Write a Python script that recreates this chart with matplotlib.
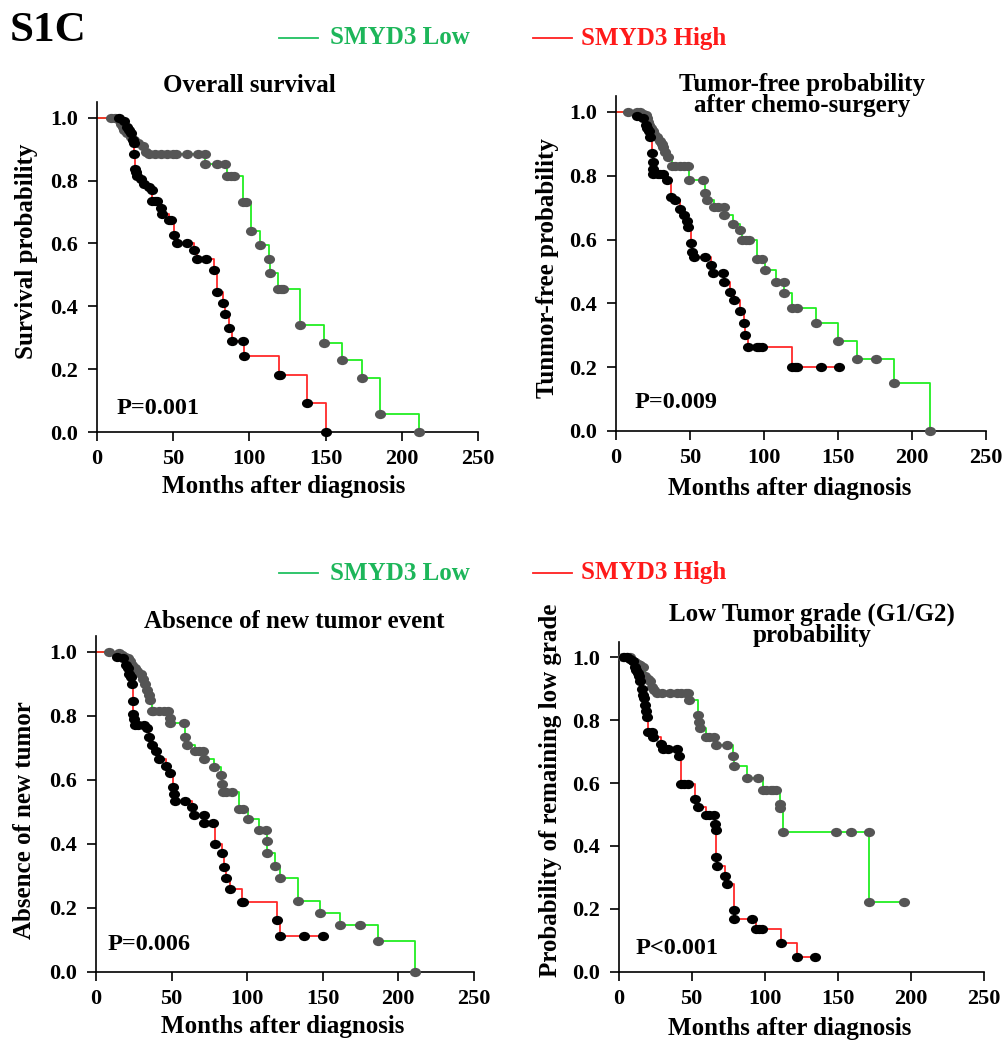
import matplotlib
matplotlib.use("Agg")
import matplotlib.pyplot as plt
from matplotlib.lines import Line2D
from matplotlib.path import Path

plt.rcParams['font.family'] = ['Liberation Serif', 'DejaVu Serif']
plt.rcParams['font.weight'] = 'bold'

W, H = 1005, 1041

# ---- data (months, probability) ----
# overall survival
os_low_t = [9, 12, 15, 16, 17, 18, 20, 22, 24, 27, 30, 32, 34, 38, 42, 46, 50, 52, 59, 66, 71, 71, 79, 84,
            85, 88, 90, 96, 98, 101, 107, 113, 113.5, 119, 121, 122, 133.5, 149, 161, 174, 186, 211]
os_low_s = [1.0, 1.0, 0.99, 0.98, 0.97, 0.96, 0.95, 0.94, 0.93, 0.92, 0.91, 0.89, 0.886, 0.886, 0.886, 0.886,
            0.886, 0.886, 0.886, 0.886, 0.886, 0.852, 0.852, 0.852, 0.814, 0.814, 0.814, 0.732, 0.732, 0.64,
            0.595, 0.549, 0.505, 0.454, 0.454, 0.454, 0.34, 0.283, 0.228, 0.171, 0.058, 0.0]
os_high_t = [14.6, 17.8, 20, 21, 22.2, 23.3, 24.3, 24.3, 24.8, 25.5, 26.5, 28.7, 30.9, 34, 36.3, 36.3, 38,
             39.6, 41.7, 42.8, 47.2, 48.3, 50.4, 52.2, 59.1, 63.5, 65.7, 71.7, 77, 78.7, 82.4, 84.1, 86.3,
             88.5, 95.7, 96.7, 119.6, 120.4, 137.8, 150]
os_high_s = [1.0, 0.99, 0.97, 0.96, 0.95, 0.93, 0.92, 0.886, 0.838, 0.826, 0.815, 0.804, 0.79, 0.78, 0.771,
             0.735, 0.735, 0.735, 0.714, 0.695, 0.676, 0.676, 0.626, 0.602, 0.602, 0.579, 0.549, 0.549,
             0.515, 0.447, 0.412, 0.376, 0.33, 0.291, 0.291, 0.242, 0.182, 0.182, 0.092, 0.0]

# tumor-free after chemo-surgery
tf_low_t = [8.4, 14, 16, 18, 20, 21, 21.5, 22.5, 24, 25, 26, 28, 30, 31, 32, 33, 35, 37.8, 40, 43, 46, 49,
            49.5, 58.8, 60, 61.5, 66, 69, 73, 73, 79, 84, 85, 88, 90, 95.5, 99, 101, 108, 113.6, 113.6, 119,
            122.6, 135, 150, 163, 176, 188, 212.7]
tf_low_s = [1.0, 1.0, 1.0, 0.995, 0.99, 0.98, 0.97, 0.96, 0.95, 0.94, 0.93, 0.92, 0.91, 0.9, 0.89, 0.875,
            0.86, 0.83, 0.83, 0.83, 0.83, 0.83, 0.788, 0.788, 0.746, 0.723, 0.703, 0.703, 0.703, 0.676, 0.65,
            0.63, 0.598, 0.598, 0.598, 0.54, 0.54, 0.504, 0.468, 0.468, 0.431, 0.387, 0.387, 0.339, 0.283,
            0.225, 0.225, 0.149, 0.0]
tf_high_t = [14, 18.5, 20, 21, 22, 23, 24.2, 25, 25.3, 25.3, 28.7, 30, 32, 34.4, 37, 40, 43, 46, 48, 48.6,
             51, 51.4, 52.5, 60.4, 64, 65.6, 72.4, 72.9, 77, 79.6, 84, 86.4, 87.6, 89, 95.5, 97, 99, 119,
             121, 122.6, 139, 151]
tf_high_s = [0.986, 0.98, 0.96, 0.95, 0.94, 0.92, 0.87, 0.843, 0.82, 0.805, 0.805, 0.805, 0.805, 0.786,
             0.734, 0.723, 0.697, 0.676, 0.659, 0.638, 0.588, 0.562, 0.546, 0.546, 0.52, 0.494, 0.494, 0.468,
             0.436, 0.41, 0.377, 0.339, 0.3, 0.264, 0.264, 0.264, 0.264, 0.2, 0.2, 0.2, 0.2, 0.2]

# absence of new tumor event
nt_low_t = [8.4, 15, 17, 19, 21, 22.7, 24, 25.5, 27, 30, 31, 32.6, 33.8, 35, 35.8, 37, 38, 42, 45, 48, 49,
            49, 58, 59, 60, 65.6, 68, 71, 71.7, 78, 83, 83.6, 84, 86, 90, 94.9, 97.5, 100.4, 107.7, 112.8,
            113, 113, 118.8, 122, 133.6, 148.6, 161.4, 174.6, 186.5, 211.5]
nt_low_s = [1.0, 0.995, 0.99, 0.985, 0.98, 0.97, 0.96, 0.95, 0.94, 0.93, 0.915, 0.9, 0.88, 0.865, 0.85,
            0.815, 0.815, 0.815, 0.815, 0.815, 0.794, 0.776, 0.776, 0.733, 0.71, 0.69, 0.69, 0.69, 0.666,
            0.64, 0.614, 0.588, 0.562, 0.562, 0.562, 0.508, 0.508, 0.476, 0.443, 0.443, 0.409, 0.37, 0.33,
            0.294, 0.22, 0.182, 0.146, 0.146, 0.097, 0.0]
nt_high_t = [14, 18, 20, 21, 22, 23, 24, 24.4, 24.8, 25.3, 26, 28, 31.6, 33.5, 34.8, 37, 40, 41.5, 46.6,
             48.8, 51, 51.5, 52, 59, 63.6, 65, 71.3, 71.7, 77.5, 79, 83.4, 85, 86.3, 89, 96.7, 97.5, 119.9,
             121.6, 138, 150.3]
nt_high_s = [0.985, 0.98, 0.96, 0.95, 0.93, 0.92, 0.9, 0.846, 0.804, 0.79, 0.77, 0.77, 0.77, 0.763, 0.733,
             0.71, 0.69, 0.666, 0.643, 0.62, 0.578, 0.555, 0.533, 0.533, 0.516, 0.49, 0.49, 0.464, 0.464,
             0.4, 0.37, 0.328, 0.292, 0.257, 0.219, 0.219, 0.161, 0.111, 0.111, 0.111]

# low tumor grade (G1/G2)
lg_low_t = [3, 6, 8, 10, 11, 13, 15, 17, 18, 20, 21.5, 22.6, 24, 26, 30, 35, 40, 43, 46, 47.7, 48.4, 54.6,
            55, 55.7, 60, 62, 65, 66.7, 74.4, 78, 79.2, 87.7, 95.7, 99, 101, 104, 106, 108, 110.5, 110.5,
            112.3, 149, 159, 171, 171, 195.4]
lg_low_s = [1.0, 1.0, 1.0, 0.99, 0.985, 0.98, 0.975, 0.97, 0.94, 0.93, 0.925, 0.905, 0.895, 0.886, 0.886,
            0.886, 0.886, 0.886, 0.886, 0.886, 0.866, 0.818, 0.795, 0.774, 0.748, 0.748, 0.748, 0.72, 0.72,
            0.687, 0.653, 0.617, 0.617, 0.577, 0.577, 0.577, 0.577, 0.577, 0.535, 0.52, 0.444, 0.444, 0.444,
            0.444, 0.221, 0.221]
lg_high_t = [4, 6, 8, 10, 11, 12, 13, 14, 15, 16, 17, 17.5, 18, 18.5, 19.6, 20.3, 22.6, 23.3, 28.8, 30.6,
             34, 39.7, 41.5, 42.5, 45, 47.7, 52.3, 54.6, 60, 62, 65, 66, 66.7, 67, 67.6, 72.8, 74, 79.2,
             79.2, 91, 94, 96, 98, 111, 122.4, 134.5]
lg_high_s = [1.0, 1.0, 0.995, 0.99, 0.97, 0.96, 0.95, 0.94, 0.925, 0.9, 0.88, 0.87, 0.85, 0.83, 0.81,
             0.764, 0.764, 0.748, 0.724, 0.708, 0.708, 0.708, 0.687, 0.597, 0.597, 0.597, 0.551, 0.524, 0.5,
             0.5, 0.5, 0.471, 0.45, 0.365, 0.336, 0.306, 0.28, 0.195, 0.168, 0.168, 0.136, 0.136, 0.136,
             0.09, 0.046, 0.046]

x_ticks = [0, 50, 100, 150, 200, 250]
y_ticks = [0.0, 0.2, 0.4, 0.6, 0.8, 1.0]

GREEN_LINE = '#22ee22'
RED_LINE = '#ff2a2a'
GREEN_TXT = '#1db65a'

# censor dots in the original are slightly wider than tall
circ = Path.unit_circle()
dot = Path(circ.vertices * [1.2, 1.0], circ.codes)


def px(x, y):
    return x / W, 1 - y / H


def km(ax, t, s, line_c, dot_c):
    ax.step([0] + t, [1.0] + s, where='post', color=line_c, lw=1.3, zorder=2)
    ax.plot(t, s, linestyle='none', marker=dot, color=dot_c, ms=8, mew=0, zorder=3, clip_on=False)


def panel(rect, low, high, ptext, ppos):
    ax = fig.add_axes(rect)
    km(ax, low[0], low[1], GREEN_LINE, '#555555')
    km(ax, high[0], high[1], RED_LINE, 'black')
    ax.set_xlim(0, 250)
    ax.set_ylim(0, 1.05)
    ax.set_xticks(x_ticks)
    ax.set_yticks(y_ticks)
    ax.set_yticklabels(['%.1f' % v for v in y_ticks])
    for sp in ['top', 'right']:
        ax.spines[sp].set_visible(False)
    for sp in ['left', 'bottom']:
        ax.spines[sp].set_linewidth(1.2)
    ax.tick_params(direction='out', length=6.5, width=1.2, labelsize=16, pad=6)
    ax.tick_params(axis='y', pad=7)
    fig.text(*px(*ppos), ptext, fontsize=17.5, fontweight='bold', va='center', ha='left')
    return ax


fig = plt.figure(figsize=(W / 100, H / 100), dpi=100)

# axes rects from pixel geometry
panel([97 / W, (H - 432) / H, 381 / W, 330 / H], (os_low_t, os_low_s), (os_high_t, os_high_s),
      'P=0.001', (117, 408))
panel([616 / W, (H - 431) / H, 369.5 / W, 335 / H], (tf_low_t, tf_low_s), (tf_high_t, tf_high_s),
      'P=0.009', (635, 402))
panel([96 / W, (H - 971.7) / H, 377.5 / W, 336 / H], (nt_low_t, nt_low_s), (nt_high_t, nt_high_s),
      'P=0.006', (108, 945))
panel([618.5 / W, (H - 971.7) / H, 365.5 / W, 330 / H], (lg_low_t, lg_low_s), (lg_high_t, lg_high_s),
      'P<0.001', (636, 949))

# titles
fig.text(*px(249, 85), 'Overall survival', fontsize=18, ha='center', va='center')
fig.text(*px(802, 95), 'Tumor-free probability\nafter chemo-surgery', fontsize=18, ha='center',
         va='center', linespacing=0.9)
fig.text(*px(294, 622), 'Absence of new tumor event', fontsize=18, ha='center', va='center')
fig.text(*px(812, 625), 'Low Tumor grade (G1/G2)\nprobability', fontsize=18, ha='center',
         va='center', linespacing=0.9)

# axis labels
for xy in [(284, 487), (790, 488), (283, 1026), (790, 1028)]:
    fig.text(*px(*xy), 'Months after diagnosis', fontsize=18, ha='center', va='center')
fig.text(*px(27, 251), 'Survival probability', fontsize=18, rotation=90, ha='center', va='center')
fig.text(*px(547, 268), 'Tunmor-free probability', fontsize=18, rotation=90, ha='center', va='center')
fig.text(*px(25, 820), 'Absence of new tumor', fontsize=18, rotation=90, ha='center', va='center')
fig.text(*px(550, 790), 'Probability of remaining low grade', fontsize=18, rotation=90,
         ha='center', va='center')

# panel tag and legends
fig.text(*px(10, 31), 'S1C', fontsize=31, ha='left', va='center')
for ly in [38, 573]:
    fig.add_artist(Line2D([279 / W, 318 / W], [1 - ly / H] * 2, color='#20c060', lw=1.3))
    fig.text(*px(330, ly), 'SMYD3 Low', fontsize=18, color=GREEN_TXT, ha='left', va='center')
    fig.add_artist(Line2D([533 / W, 572 / W], [1 - ly / H] * 2, color='#ff2020', lw=1.3))
    fig.text(*px(581, ly), 'SMYD3 High', fontsize=18, color='#ff1a1a', ha='left', va='center')

plt.savefig("out.png", dpi=100)
